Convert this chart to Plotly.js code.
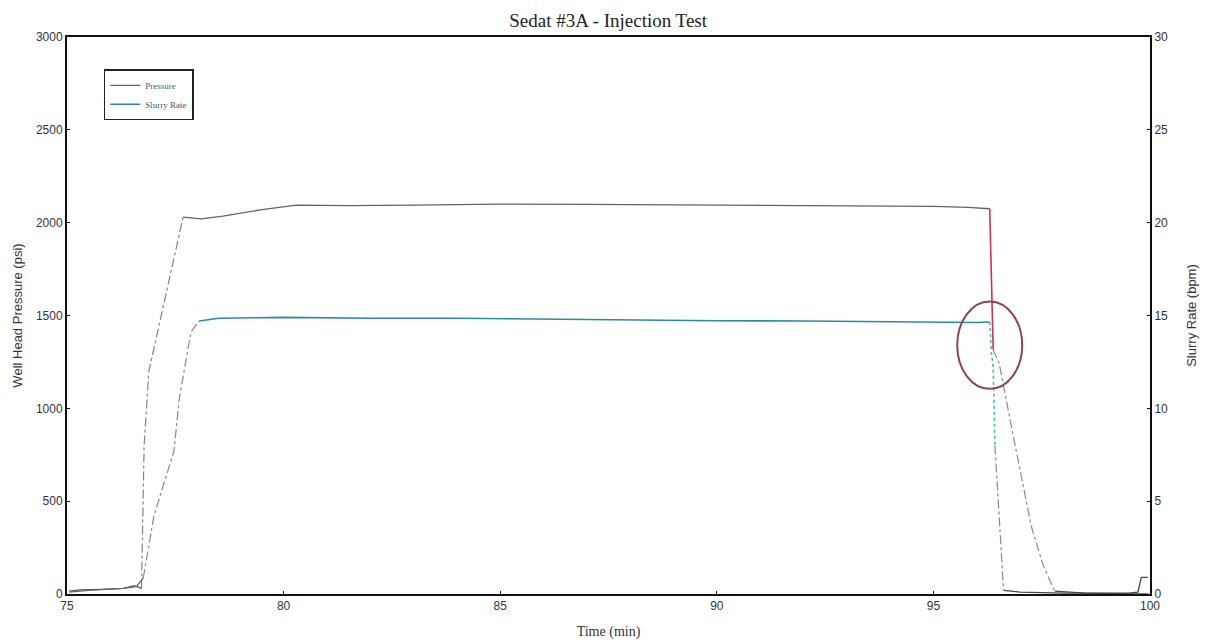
<!DOCTYPE html>
<html>
<head>
<meta charset="utf-8">
<script src="https://cdn.plot.ly/plotly-3.0.1.min.js"></script>
<style>html,body{margin:0;padding:0;background:#fff;}#chart{width:1209px;height:644px;}</style>
</head>
<body>
<div id="chart"></div>
<script>
// ---- Data ----
const pressureTime = [75.05, 75.3, 75.8, 76.3, 76.55, 76.65, 76.72, 76.78, 76.89, 77.24, 77.68, 78.1, 78.6, 79.5, 80.3, 81.5, 83, 85, 87, 89, 91, 93, 95, 95.8, 96.3, 96.38, 96.52, 96.8, 97.26, 97.54, 97.8, 98.5, 99.5, 99.95];
const pressurePsi  = [15, 22, 25, 30, 45, 35, 30, 800, 1200, 1560, 2030, 2020, 2035, 2070, 2095, 2092, 2095, 2100, 2098, 2095, 2093, 2092, 2088, 2082, 2075, 1316, 1241, 902, 365, 150, 15, 5, 0, 0];

const rateTime = [75.05, 75.5, 76.3, 76.6, 76.76, 77.01, 77.47, 77.59, 77.86, 78.05, 78.5, 80, 82, 84, 86, 88, 90, 92, 94, 96.0, 96.3, 96.34, 96.38, 96.42, 96.52, 96.62, 97, 98, 99.5, 99.72, 99.8, 99.95];
const rateBpm  = [0.1, 0.2, 0.3, 0.4, 0.86, 4.25, 7.7, 10.5, 14.1, 14.7, 14.85, 14.9, 14.85, 14.85, 14.8, 14.75, 14.72, 14.7, 14.65, 14.62, 14.65, 13.0, 12.2, 8.0, 4.0, 0.2, 0.1, 0.05, 0.05, 0.1, 0.9, 0.9];

const titleText = "Sedat #3A - Injection Test";
const xTitle = "Time (min)";
const y1Title = "Well Head Pressure (psi)";
const y2Title = "Slurry Rate (bpm)";
const seriesNames = ["Pressure", "Slurry Rate"];

// ---- segment helpers (style only) ----
function seg(xs, ys, i0, i1) { return {x: xs.slice(i0, i1 + 1), y: ys.slice(i0, i1 + 1)}; }
function pIdx(t) { return pressureTime.indexOf(t); }
function rIdx(t) { return rateTime.indexOf(t); }

const traces = [];
function add(s, opts) { traces.push(Object.assign({type: 'scatter', mode: 'lines', x: s.x, y: s.y, showlegend: false, hoverinfo: 'skip'}, opts)); }

// Pressure segments
add(seg(pressureTime, pressurePsi, 0, pIdx(76.72)), {line: {color: '#555', width: 1.3}});
add(seg(pressureTime, pressurePsi, pIdx(76.72), pIdx(77.68)), {line: {color: '#8a7f82', width: 1.2, dash: 'dashdot'}});
add(seg(pressureTime, pressurePsi, pIdx(77.68), pIdx(96.3)), {name: seriesNames[0], showlegend: true, line: {color: '#6a5f63', width: 1.3}});
add(seg(pressureTime, pressurePsi, pIdx(96.3), pIdx(96.38)), {line: {color: '#d0305a', width: 1.6}});
add(seg(pressureTime, pressurePsi, pIdx(96.38), pIdx(97.8)), {line: {color: '#8a8a8a', width: 1.2, dash: 'dashdot'}});
add(seg(pressureTime, pressurePsi, pIdx(97.8), pressureTime.length - 1), {line: {color: '#444', width: 1.3}});

// Rate segments (right axis)
add(seg(rateTime, rateBpm, 0, rIdx(76.76)), {yaxis: 'y2', line: {color: '#666', width: 1.3}});
add(seg(rateTime, rateBpm, rIdx(76.76), rIdx(78.05)), {yaxis: 'y2', line: {color: '#8a8a8a', width: 1.2, dash: 'dashdot'}});
add(seg(rateTime, rateBpm, rIdx(78.05), rIdx(96.3)), {yaxis: 'y2', name: seriesNames[1], showlegend: true, line: {color: '#2a8aa6', width: 1.6}});
add(seg(rateTime, rateBpm, rIdx(96.3), rIdx(96.42)), {yaxis: 'y2', line: {color: '#3cc0b8', width: 1.6, dash: 'dot'}});
add(seg(rateTime, rateBpm, rIdx(96.42), rIdx(96.62)), {yaxis: 'y2', line: {color: '#8a8a8a', width: 1.2, dash: 'dashdot'}});
add(seg(rateTime, rateBpm, rIdx(96.62), rateTime.length - 1), {yaxis: 'y2', line: {color: '#444', width: 1.3}});

const tickFont = {family: 'Liberation Sans, Arial, sans-serif', size: 12, color: '#333'};

const layout = {
  width: 1209, height: 644,
  margin: {l: 67, r: 59, t: 37, b: 50},
  paper_bgcolor: '#fff', plot_bgcolor: '#fff',
  title: {text: titleText, x: 0.503, xanchor: 'center', y: 0.968, yanchor: 'middle',
          font: {family: 'Liberation Serif, Times New Roman, serif', size: 19, color: '#222'}},
  xaxis: {range: [75, 100], tickvals: [75, 80, 85, 90, 95, 100], showgrid: false, zeroline: false,
          showline: true, linecolor: '#111', linewidth: 2, mirror: true, ticks: 'inside', ticklen: 3,
          tickcolor: '#111', tickfont: tickFont,
          title: {text: xTitle, standoff: 14, font: {family: 'Liberation Serif, Times New Roman, serif', size: 14, color: '#333'}}},
  yaxis: {range: [0, 3000], tickvals: [0, 500, 1000, 1500, 2000, 2500, 3000], showgrid: false, zeroline: false,
          showline: true, linecolor: '#111', linewidth: 2, mirror: true, ticks: 'inside', ticklen: 3,
          tickcolor: '#111', tickfont: tickFont,
          title: {text: y1Title, standoff: 10, font: {family: 'Liberation Sans, Arial, sans-serif', size: 13, color: '#333'}}},
  yaxis2: {range: [0, 30], tickvals: [0, 5, 10, 15, 20, 25, 30], overlaying: 'y', side: 'right', showgrid: false,
           zeroline: false, showline: true, linecolor: '#111', linewidth: 2, ticks: 'inside', ticklen: 3,
           tickcolor: '#111', tickfont: tickFont,
           title: {text: y2Title, standoff: 20, font: {family: 'Liberation Sans, Arial, sans-serif', size: 13, color: '#333'}}},
  legend: {x: 0.034, y: 0.942, xanchor: 'left', yanchor: 'top', bgcolor: '#fff', bordercolor: '#222', borderwidth: 1.5,
           font: {family: 'Liberation Serif, serif', size: 9, color: '#4a5a66'}, tracegroupgap: 0, itemwidth: 30},
  shapes: [{type: 'circle', xref: 'x', yref: 'y', x0: 95.55, x1: 97.05, y0: 1105, y1: 1575,
            line: {color: '#8e4452', width: 2}}],
  showlegend: true
};

Plotly.newPlot('chart', traces, layout, {staticPlot: true, displayModeBar: false});
</script>
</body>
</html>
